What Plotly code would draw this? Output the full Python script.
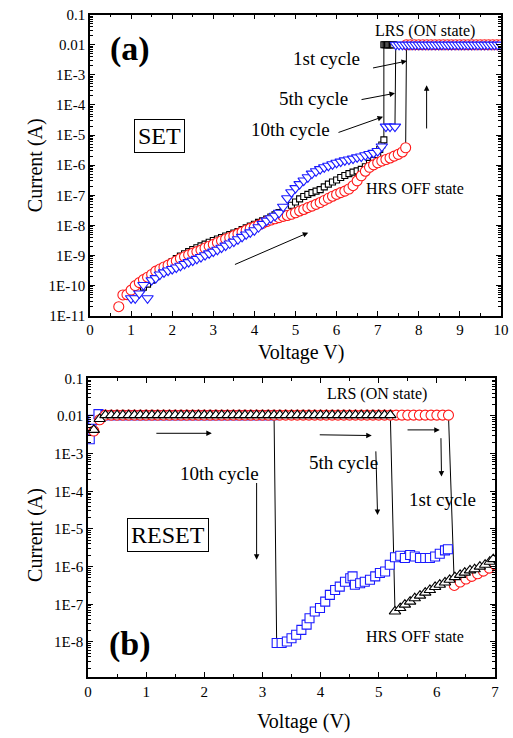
import plotly.graph_objects as go

# ---------------- data: (a) SET ----------------
# HRS branches (voltage V, log10 of current A)
set_black_v = [1.3, 1.4, 1.5, 1.6, 1.7, 1.8, 1.9, 2.0, 2.1, 2.2, 2.3, 2.4, 2.5, 2.6, 2.7, 2.8, 2.9, 3.0,
               3.1, 3.2, 3.3, 3.4, 3.5, 3.6, 3.7, 3.8, 3.9, 4.0, 4.1, 4.2, 4.3, 4.4, 4.5, 4.6, 4.7, 4.8,
               4.9, 5.0, 5.1, 5.2, 5.3, 5.4, 5.5, 5.6, 5.7, 5.8, 5.9, 6.0, 6.1, 6.2, 6.3, 6.4, 6.5, 6.6,
               6.7, 6.8, 6.9, 7.0, 7.05, 7.1, 7.15]
set_black_logi = [-10.05, -9.95, -9.82, -9.7, -9.55, -9.42, -9.3, -9.2, -9.1, -9.02, -8.94, -8.87, -8.8,
                  -8.74, -8.68, -8.62, -8.56, -8.5, -8.45, -8.4, -8.35, -8.3, -8.25, -8.2, -8.14, -8.08,
                  -8.02, -7.96, -7.9, -7.85, -7.79, -7.72, -7.65, -7.57, -7.49, -7.42, -7.33, -7.22,
                  -7.12, -7.04, -6.97, -6.91, -6.86, -6.81, -6.72, -6.63, -6.56, -6.49, -6.41, -6.34,
                  -6.28, -6.23, -6.19, -6.14, -6.05, -5.94, -5.83, -5.65, -5.48, -5.33, -5.16]
set_red_v = [0.7, 0.8, 0.9, 1.0, 1.1, 1.2, 1.3, 1.4, 1.5, 1.6, 1.7, 1.8, 1.9, 2.0, 2.1, 2.2, 2.3, 2.4,
             2.5, 2.6, 2.7, 2.8, 2.9, 3.0, 3.1, 3.2, 3.3, 3.4, 3.5, 3.6, 3.7, 3.8, 3.9, 4.0, 4.1, 4.2,
             4.3, 4.4, 4.5, 4.6, 4.7, 4.8, 4.9, 5.0, 5.1, 5.2, 5.3, 5.4, 5.5, 5.6, 5.7, 5.8, 5.9, 6.0,
             6.1, 6.2, 6.3, 6.4, 6.5, 6.6, 6.7, 6.8, 6.9, 7.0, 7.1, 7.2, 7.3, 7.4, 7.5, 7.6, 7.68]
set_red_logi = [-10.7, -10.31, -10.3, -10.15, -10.0, -9.9, -9.8, -9.72, -9.63, -9.52, -9.45, -9.38,
                -9.32, -9.25, -9.18, -9.1, -9.04, -8.98, -8.92, -8.87, -8.82, -8.75, -8.69, -8.63,
                -8.57, -8.51, -8.45, -8.4, -8.34, -8.28, -8.22, -8.16, -8.1, -8.05, -7.99, -7.93,
                -7.87, -7.82, -7.78, -7.74, -7.7, -7.67, -7.63, -7.58, -7.52, -7.47, -7.41, -7.36,
                -7.3, -7.24, -7.17, -7.1, -7.03, -6.97, -6.91, -6.86, -6.79, -6.68, -6.52, -6.35,
                -6.2, -6.07, -5.99, -5.92, -5.86, -5.81, -5.76, -5.7, -5.64, -5.56, -5.42]
set_blue_v = [1.0, 1.1, 1.2, 1.3, 1.4, 1.5, 1.6, 1.7, 1.8, 1.9, 2.0, 2.1, 2.2, 2.3, 2.4, 2.5, 2.6, 2.7,
              2.8, 2.9, 3.0, 3.1, 3.2, 3.3, 3.4, 3.5, 3.6, 3.7, 3.8, 3.9, 4.0, 4.1, 4.2, 4.3, 4.4, 4.5,
              4.6, 4.7, 4.8, 4.9, 5.0, 5.1, 5.2, 5.3, 5.4, 5.5, 5.6, 5.7, 5.8, 5.9, 6.0, 6.1, 6.2, 6.3,
              6.4, 6.5, 6.6, 6.7, 6.8, 6.9, 7.0, 7.1, 7.2, 7.3, 7.42]
set_blue_logi = [-10.42, -10.42, -10.26, -9.98, -10.42, -9.82, -9.75, -9.63, -9.56, -9.5, -9.45, -9.4,
                 -9.34, -9.28, -9.22, -9.17, -9.11, -9.05, -8.99, -8.93, -8.87, -8.81, -8.74, -8.67,
                 -8.6, -8.54, -8.46, -8.38, -8.3, -8.23, -8.16, -8.06, -7.95, -7.84, -7.76, -7.68,
                 -7.58, -7.38, -7.1, -6.9, -6.76, -6.63, -6.51, -6.4, -6.28, -6.2, -6.13, -6.07,
                 -6.02, -5.97, -5.92, -5.88, -5.84, -5.81, -5.78, -5.74, -5.71, -5.67, -5.63, -5.59,
                 -5.53, -5.38, -4.72, -4.72, -4.72]
# LRS branches (compliance level)
set_lrs_level = 0.01
set_black_lrs_v = [7.15, 7.18, 7.21, 7.24, 7.27, 7.30, 7.33, 7.36, 7.39]
set_red_lrs_v = [7.7, 7.8, 7.9, 8.0, 8.1, 8.2, 8.3, 8.4, 8.5, 8.6, 8.7, 8.8, 8.9, 9.0, 9.1, 9.2, 9.3,
                 9.4, 9.5, 9.6, 9.7, 9.8, 9.9, 10.0]
set_blue_lrs_v = [7.44, 7.52, 7.60, 7.68, 7.76, 7.84, 7.92, 8.00, 8.08, 8.16, 8.24, 8.32, 8.40, 8.48,
                  8.56, 8.64, 8.72, 8.80, 8.88, 8.96, 9.04, 9.12, 9.20, 9.28, 9.36, 9.44, 9.52, 9.60,
                  9.68, 9.76, 9.84, 9.92, 10.0]

# ---------------- data: (b) RESET ----------------
reset_lrs_level = 0.0105
reset_blue_start_v = [0.03, 0.06, 0.09, 0.18]
reset_blue_start_logi = [-2.62, -2.33, -2.1, -1.95]
reset_blue_lrs_v = [0.3, 0.4, 0.5, 0.6, 0.7, 0.8, 0.9, 1.0, 1.1, 1.2, 1.3, 1.4, 1.5, 1.6, 1.7, 1.8,
                    1.9, 2.0, 2.1, 2.2, 2.3, 2.4, 2.5, 2.6, 2.7, 2.8, 2.9, 3.0, 3.1, 3.2]
reset_blue_hrs_v = [3.245, 3.33, 3.42, 3.50, 3.58, 3.67, 3.76, 3.81, 3.90, 3.99, 4.08, 4.16, 4.25,
                    4.33, 4.42, 4.51, 4.55, 4.59, 4.68, 4.76, 4.85, 4.94, 5.02, 5.11, 5.19, 5.28,
                    5.37, 5.45, 5.54, 5.62, 5.71, 5.80, 5.88, 5.97, 6.05, 6.14, 6.19]
reset_blue_hrs_logi = [-8.03, -8.03, -7.99, -7.90, -7.81, -7.68, -7.54, -7.37, -7.19, -7.10, -6.93,
                       -6.75, -6.62, -6.53, -6.40, -6.31, -6.26, -6.48, -6.44, -6.40, -6.35, -6.26,
                       -6.17, -6.13, -5.95, -5.75, -5.71, -5.77, -5.69, -5.73, -5.77, -5.77, -5.77,
                       -5.73, -5.66, -5.57, -5.54]
reset_black_start_v = [0.1, 0.2]
reset_black_start_logi = [-2.37, -2.08]
reset_black_lrs_v = [0.3, 0.4, 0.5, 0.6, 0.7, 0.8, 0.9, 1.0, 1.1, 1.2, 1.3, 1.4, 1.5, 1.6, 1.7, 1.8,
                     1.9, 2.0, 2.1, 2.2, 2.3, 2.4, 2.5, 2.6, 2.7, 2.8, 2.9, 3.0, 3.1, 3.2, 3.3, 3.4,
                     3.5, 3.6, 3.7, 3.8, 3.9, 4.0, 4.1, 4.2, 4.3, 4.4, 4.5, 4.6, 4.7, 4.8, 4.9, 5.0,
                     5.1, 5.2]
reset_black_hrs_v = [5.28, 5.37, 5.45, 5.54, 5.62, 5.71, 5.80, 5.88, 5.97, 6.05, 6.14, 6.22, 6.31,
                     6.40, 6.48, 6.57, 6.65, 6.74, 6.83, 6.91, 6.97]
reset_black_hrs_logi = [-7.19, -7.10, -7.01, -6.93, -6.84, -6.77, -6.69, -6.62, -6.54, -6.48, -6.42,
                        -6.35, -6.28, -6.22, -6.16, -6.10, -6.07, -6.00, -5.95, -5.87, -5.80]
reset_red_start_v = [0.1, 0.2]
reset_red_start_logi = [-2.4, -2.1]
reset_red_lrs_v = [0.3, 0.4, 0.5, 0.6, 0.7, 0.8, 0.9, 1.0, 1.1, 1.2, 1.3, 1.4, 1.5, 1.6, 1.7, 1.8,
                   1.9, 2.0, 2.1, 2.2, 2.3, 2.4, 2.5, 2.6, 2.7, 2.8, 2.9, 3.0, 3.1, 3.2, 3.3, 3.4,
                   3.5, 3.6, 3.7, 3.8, 3.9, 4.0, 4.1, 4.2, 4.3, 4.4, 4.5, 4.6, 4.7, 4.8, 4.9, 5.0,
                   5.1, 5.2, 5.3, 5.4, 5.5, 5.6, 5.7, 5.8, 5.9, 6.0, 6.1, 6.2]
reset_red_hrs_v = [6.3, 6.4, 6.5, 6.6, 6.7, 6.8, 6.9, 7.0]
reset_red_hrs_logi = [-6.5, -6.41, -6.33, -6.26, -6.19, -6.12, -6.04, -5.95]

# tick labels
y_top_tickvals = [-1, -2, -3, -4, -5, -6, -7, -8, -9, -10, -11]
y_top_ticktext = ["0.1", "0.01", "1E-3", "1E-4", "1E-5", "1E-6", "1E-7", "1E-8", "1E-9", "1E-10", "1E-11"]
y_bot_tickvals = [-1, -2, -3, -4, -5, -6, -7, -8]
y_bot_ticktext = ["0.1", "0.01", "1E-3", "1E-4", "1E-5", "1E-6", "1E-7", "1E-8"]

# ---------------- figure ----------------
FONT = "Liberation Serif, Times New Roman, serif"
BLUE, RED, BLACK = "#1a1aff", "#ff1a1a", "#000000"


def cur(logs):
    return [10 ** v for v in logs]


def minor_log_ticks(lo, hi):
    vals = []
    for e in range(lo, hi):
        for m in range(2, 10):
            vals.append(m * 10.0 ** e)
    return vals


fig = go.Figure()


def markers(x, y, sym, color, size, xa, ya):
    fig.add_trace(go.Scatter(x=x, y=y, mode="markers", xaxis=xa, yaxis=ya, showlegend=False,
                             marker=dict(symbol=sym, size=size, color="white",
                                         line=dict(color=color, width=1.1))))


def link(x, y, xa, ya):
    fig.add_trace(go.Scatter(x=x, y=y, mode="lines", xaxis=xa, yaxis=ya, showlegend=False,
                             line=dict(color="black", width=1)))


# (a) SET: jump lines
link([set_black_v[-1], set_black_lrs_v[0]], [10 ** set_black_logi[-1], set_lrs_level], "x", "y")
link([set_blue_v[-1], set_blue_lrs_v[0]], [10 ** set_blue_logi[-1], set_lrs_level], "x", "y")
link([set_red_v[-1], set_red_lrs_v[0]], [10 ** set_red_logi[-1], set_lrs_level], "x", "y")
markers(set_black_v + set_black_lrs_v, cur(set_black_logi) + [set_lrs_level for _ in set_black_lrs_v],
        "square", BLACK, 6, "x", "y")
markers(set_red_v + set_red_lrs_v, cur(set_red_logi) + [set_lrs_level for _ in set_red_lrs_v],
        "circle", RED, 10, "x", "y")
markers(set_blue_v + set_blue_lrs_v, cur(set_blue_logi) + [set_lrs_level for _ in set_blue_lrs_v],
        "triangle-down", BLUE, 10, "x", "y")

# (b) RESET: jump lines
link([reset_blue_lrs_v[-1], reset_blue_hrs_v[0]], [reset_lrs_level, 10 ** reset_blue_hrs_logi[0]], "x2", "y2")
link([reset_black_lrs_v[-1], reset_black_hrs_v[0]], [reset_lrs_level, 10 ** reset_black_hrs_logi[0]], "x2", "y2")
link([reset_red_lrs_v[-1], reset_red_hrs_v[0]], [reset_lrs_level, 10 ** reset_red_hrs_logi[0]], "x2", "y2")
markers(reset_blue_start_v + reset_blue_lrs_v + reset_blue_hrs_v,
        cur(reset_blue_start_logi) + [reset_lrs_level for _ in reset_blue_lrs_v] + cur(reset_blue_hrs_logi),
        "square", BLUE, 9, "x2", "y2")
markers(reset_red_start_v + reset_red_lrs_v + reset_red_hrs_v,
        cur(reset_red_start_logi) + [reset_lrs_level for _ in reset_red_lrs_v] + cur(reset_red_hrs_logi),
        "circle", RED, 10, "x2", "y2")
markers(reset_black_start_v + reset_black_lrs_v + reset_black_hrs_v,
        cur(reset_black_start_logi) + [reset_lrs_level for _ in reset_black_lrs_v] + cur(reset_black_hrs_logi),
        "triangle-up", BLACK, 10, "x2", "y2")

ax_common = dict(showline=True, linecolor="black", linewidth=1.5, mirror="allticks", ticks="inside",
                 tickcolor="black", showgrid=False, zeroline=False, automargin=False,
                 tickfont=dict(family=FONT, size=15, color="black"))

fig.update_layout(
    width=513, height=738, margin=dict(l=0, r=0, t=0, b=0, pad=0, autoexpand=False),
    paper_bgcolor="white", plot_bgcolor="white",
    font=dict(family=FONT, color="black"),
    xaxis=dict(domain=[0.17544, 0.97661], anchor="y", range=[0, 10], dtick=1, ticklen=5,
               minor=dict(ticks="inside", ticklen=3, dtick=0.5, tickcolor="black"), **ax_common),
    yaxis=dict(domain=[0.5722, 0.9801], anchor="x", type="log", range=[-11, -1],
               tickvals=[10 ** v for v in y_top_tickvals], ticktext=y_top_ticktext, ticklen=5,
               minor=dict(ticks="inside", ticklen=3, tickmode="array",
                          tickvals=minor_log_ticks(-11, -1), tickcolor="black"), **ax_common),
    xaxis2=dict(domain=[0.17154, 0.96491], anchor="y2", range=[0, 7], dtick=1, ticklen=5,
                minor=dict(ticks="inside", ticklen=3, dtick=0.5, tickcolor="black"), **ax_common),
    yaxis2=dict(domain=[0.0827, 0.4874], anchor="x2", type="log", range=[-8.93, -1],
                tickvals=[10 ** v for v in y_bot_tickvals], ticktext=y_bot_ticktext, ticklen=5,
                minor=dict(ticks="inside", ticklen=3, tickmode="array",
                           tickvals=minor_log_ticks(-9, -1), tickcolor="black"), **ax_common),
)

ann = []


def text(x, y, s, size, xa="x", ya="y", bold=False, box=False):
    a = dict(x=x, y=y, xref=xa, yref=ya, text=("<b>%s</b>" % s if bold else s), showarrow=False,
             xanchor="center", yanchor="middle",
             font=dict(family=FONT, size=size, color="black"))
    if box:
        a.update(bordercolor="black", borderwidth=1, borderpad=3, bgcolor="white")
    ann.append(a)


def arrow(x0, y0, x1, y1, xa="x", ya="y"):
    ann.append(dict(x=x1, y=y1, ax=x0, ay=y0, xref=xa, yref=ya, axref=xa, ayref=ya, text="",
                    showarrow=True, arrowhead=2, arrowsize=1.1, arrowwidth=1, arrowcolor="black"))


# (a) labels (y in log10 units)
text(0.97, -2.14, "(a)", 34, bold=True)
text(8.15, -1.53, "LRS (ON state)", 16)
text(5.76, -2.45, "1st cycle", 19)
text(5.43, -3.78, "5th cycle", 19)
text(4.87, -4.83, "10th cycle", 19)
text(1.70, -5.03, "SET", 24, box=True)
text(7.91, -6.79, "HRS OFF state", 16)
arrow(6.85, -2.78, 7.71, -2.54)
arrow(6.57, -3.83, 7.42, -3.61)
arrow(6.01, -4.93, 7.13, -4.39)
arrow(8.19, -4.83, 8.19, -3.34)
arrow(3.49, -9.32, 5.31, -8.24)

# (b) labels
text(0.72, -8.05, "(b)", 34, "x2", "y2", bold=True)
text(4.97, -1.42, "LRS (ON state)", 16, "x2", "y2")
text(2.27, -3.52, "10th cycle", 19, "x2", "y2")
text(4.39, -3.24, "5th cycle", 19, "x2", "y2")
text(6.10, -4.21, "1st cycle", 19, "x2", "y2")
text(1.38, -5.16, "RESET", 24, "x2", "y2", box=True)
text(5.62, -7.85, "HRS OFF state", 16, "x2", "y2")
arrow(1.15, -2.46, 2.13, -2.46, "x2", "y2")
arrow(3.96, -2.50, 4.88, -2.52, "x2", "y2")
arrow(5.47, -2.37, 6.05, -2.37, "x2", "y2")
arrow(2.90, -3.74, 2.90, -5.82, "x2", "y2")
arrow(4.95, -2.90, 4.98, -4.63, "x2", "y2")
arrow(6.07, -2.55, 6.08, -3.61, "x2", "y2")

# axis titles
for (x, y, s, ang) in [(0.068, 0.776, "Current (A)", -90), (0.068, 0.275, "Current (A)", -90),
                       (0.587, 0.523, "Voltage V)", 0), (0.592, 0.0217, "Voltage (V)", 0)]:
    ann.append(dict(x=x, y=y, xref="paper", yref="paper", text=s, showarrow=False, textangle=ang,
                    xanchor="center", yanchor="middle",
                    font=dict(family=FONT, size=20, color="black")))

fig.update_layout(annotations=ann)
fig.write_html("out.html")
